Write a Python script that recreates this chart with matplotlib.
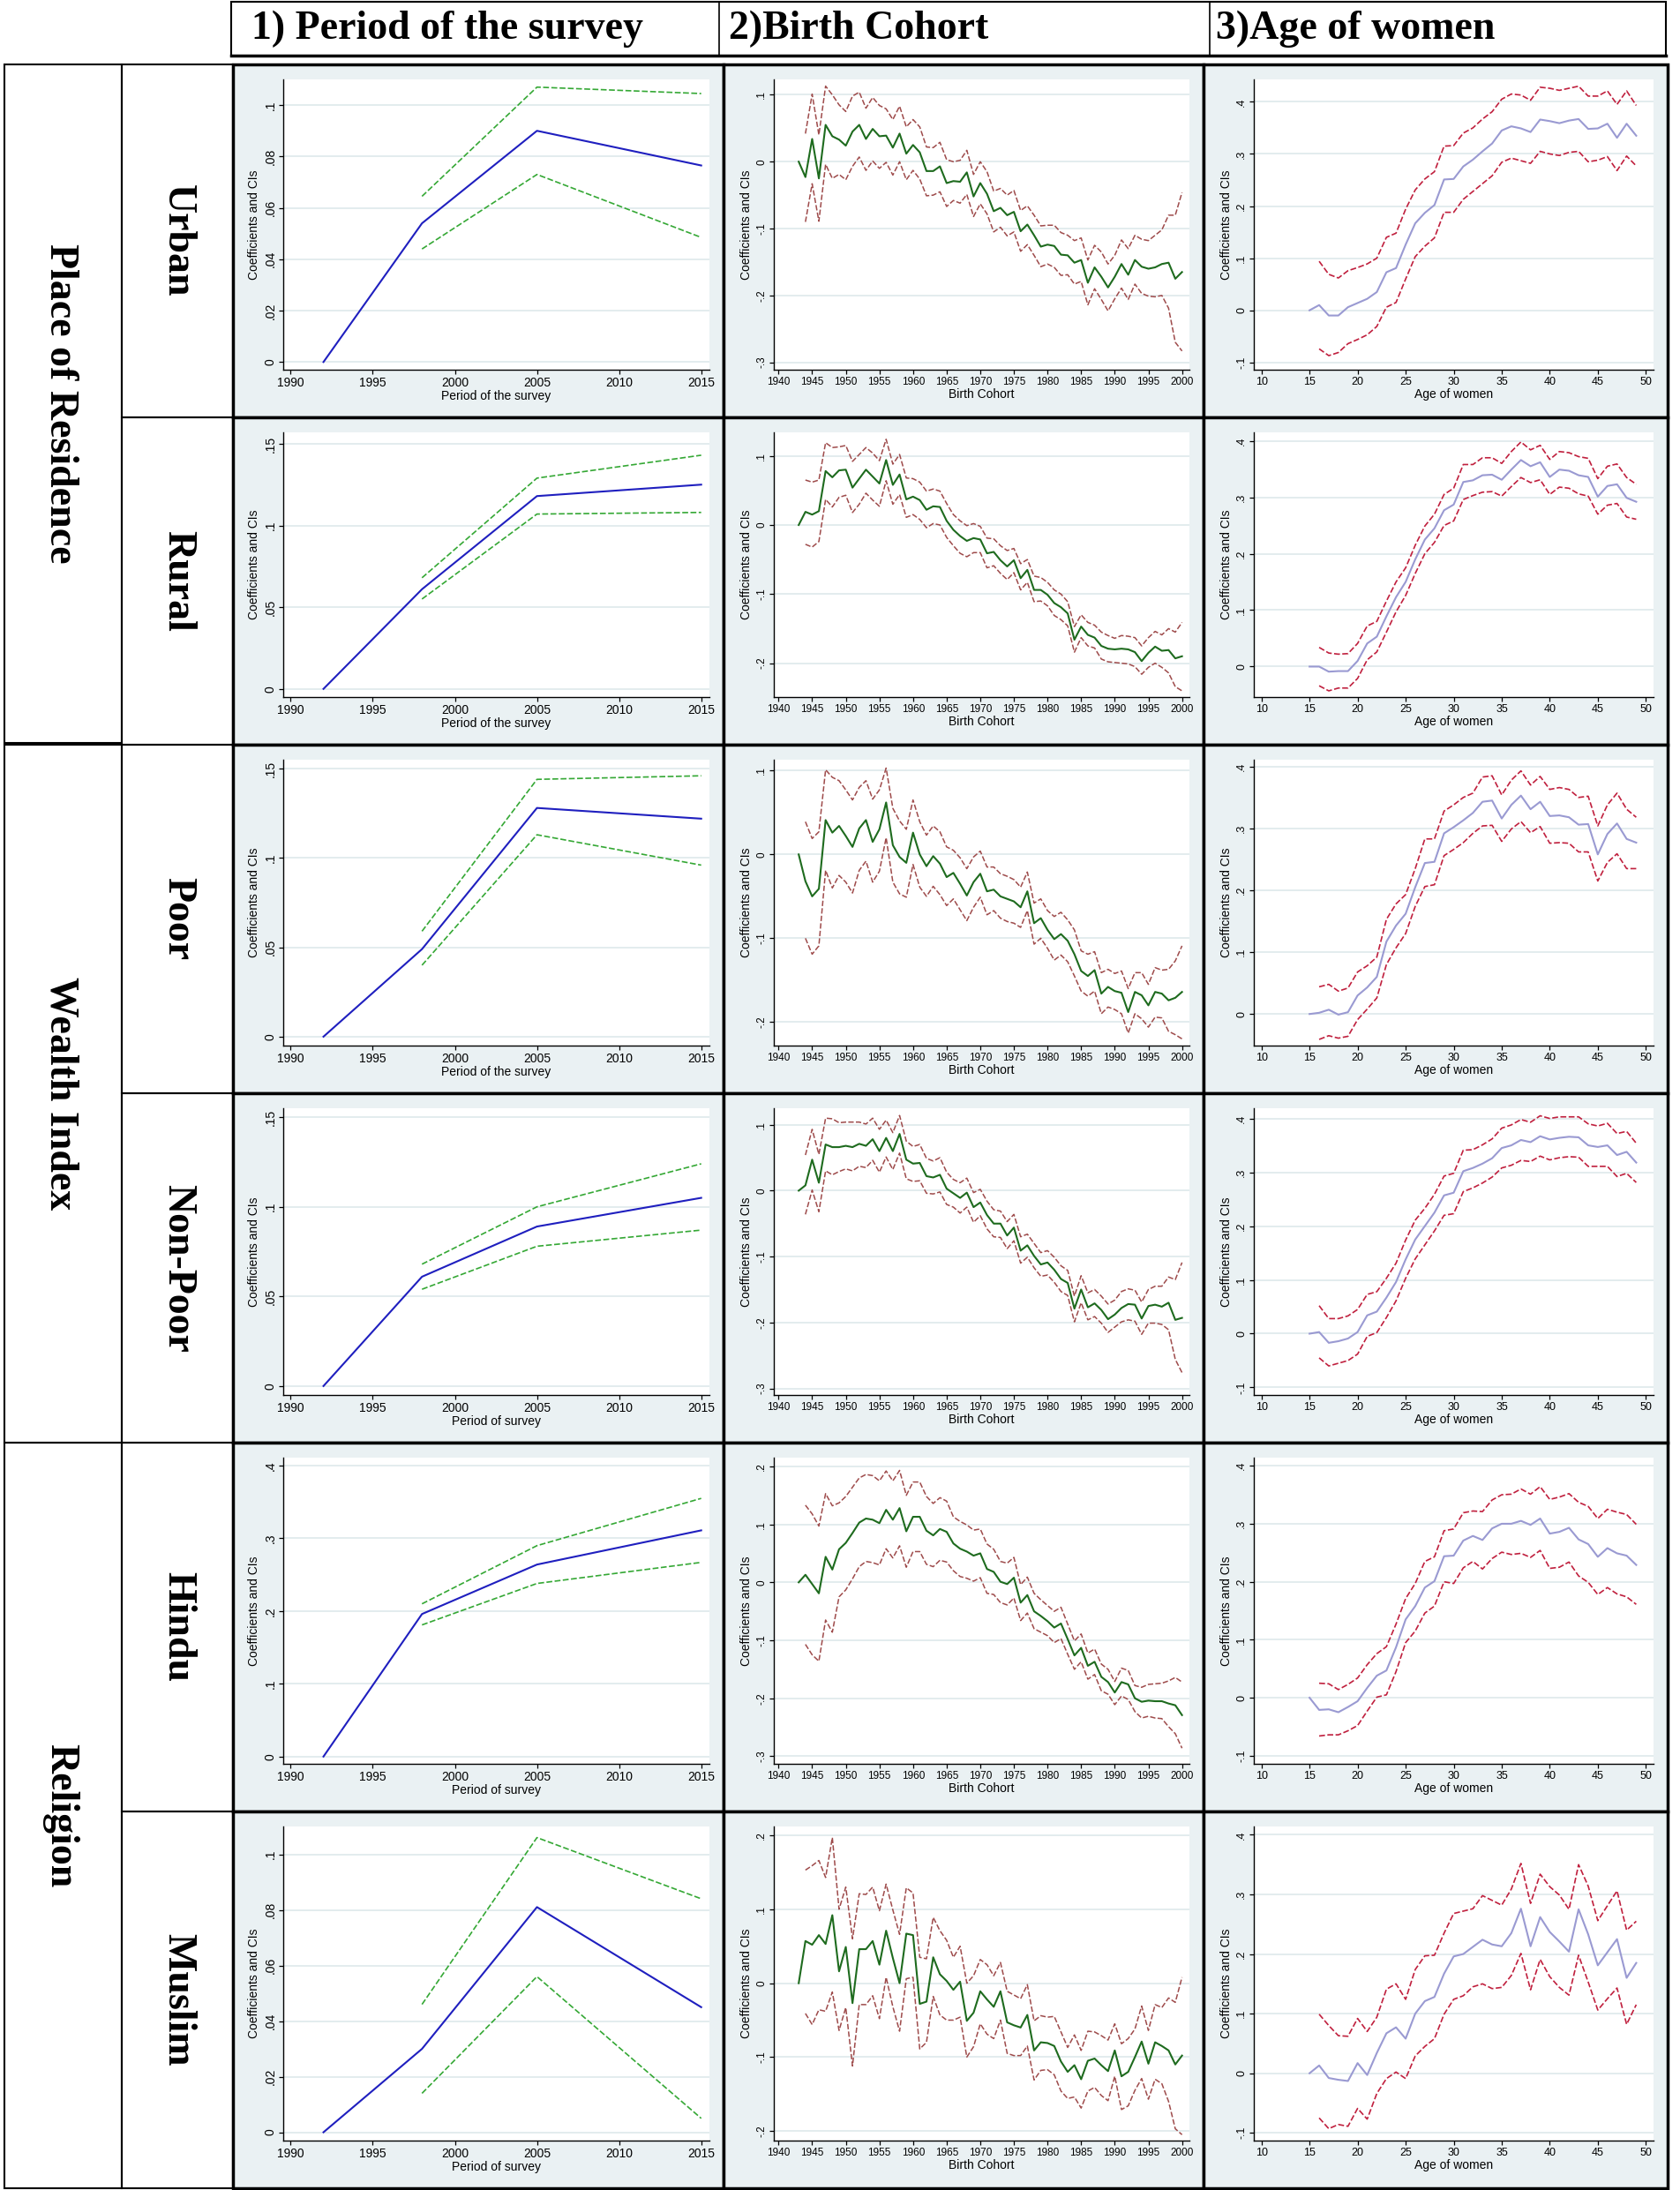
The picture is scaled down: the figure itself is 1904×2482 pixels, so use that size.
import matplotlib
matplotlib.use("Agg")
import matplotlib.pyplot as plt
from matplotlib.patches import Rectangle
from matplotlib.ticker import FuncFormatter

plt.rcParams['font.family'] = 'Liberation Sans'

# ---------------- data ----------------
row_names = ["Urban", "Rural", "Poor", "Non-Poor", "Hindu", "Muslim"]
group_names = ["Place of Residence", "Wealth Index", "Religion"]
column_titles = ["1) Period of the survey", "2)Birth Cohort", "3)Age of women"]
period_xlabels = ["Period of the survey", "Period of the survey", "Period of the survey",
                  "Period of survey", "Period of survey", "Period of survey"]

period_years = [1992, 1998, 2005, 2015]
period_ci_years = [1998, 2005, 2015]
cohort_years = list(range(1943, 2001))
cohort_ci_years = list(range(1944, 2001))
age_years = list(range(15, 50))
age_ci_years = list(range(16, 50))

# period of the survey
period_urban_coef = [0, .054, .090, .0765]
period_urban_hi = [.0645, .107, .1045]
period_urban_lo = [.044, .073, .0485]
period_rural_coef = [0, .061, .118, .125]
period_rural_hi = [.068, .129, .143]
period_rural_lo = [.055, .107, .108]
period_poor_coef = [0, .049, .128, .122]
period_poor_hi = [.059, .144, .146]
period_poor_lo = [.040, .113, .096]
period_nonpoor_coef = [0, .061, .089, .105]
period_nonpoor_hi = [.068, .100, .124]
period_nonpoor_lo = [.054, .078, .087]
period_hindu_coef = [0, .196, .264, .311]
period_hindu_hi = [.210, .290, .355]
period_hindu_lo = [.181, .238, .267]
period_muslim_coef = [0, .030, .081, .045]
period_muslim_hi = [.046, .106, .084]
period_muslim_lo = [.014, .056, .005]

# birth cohort
cohort_urban_coef = [0, -.023, .034, -.025, .055, .038, .033, .024, .045, .055,
                     .034, .049, .038, .039, .021, .042, .012, .025, .014, -.014,
                     -.014, -.007, -.032, -.029, -.030, -.016, -.052, -.032, -.048, -.074,
                     -.069, -.080, -.075, -.104, -.094, -.110, -.127, -.124, -.126, -.139,
                     -.140, -.151, -.147, -.181, -.158, -.172, -.188, -.172, -.153, -.169,
                     -.147, -.157, -.160, -.158, -.153, -.151, -.175, -.165]
cohort_urban_hi = [.042, .101, .040, .113, .100, .085, .075, .098, .104, .080,
                   .096, .084, .079, .063, .083, .052, .063, .052, .022, .021,
                   .029, .003, .000, .002, .017, -.019, .000, -.015, -.044, -.040,
                   -.050, -.043, -.073, -.066, -.080, -.096, -.095, -.095, -.106, -.110,
                   -.118, -.114, -.147, -.125, -.135, -.153, -.140, -.117, -.130, -.110,
                   -.116, -.118, -.110, -.102, -.080, -.080, -.046]
cohort_urban_lo = [-.090, -.033, -.089, -.004, -.025, -.019, -.027, -.007, .007, -.013,
                   .001, -.010, -.001, -.020, .000, -.027, -.013, -.026, -.051, -.050,
                   -.045, -.067, -.058, -.062, -.049, -.082, -.063, -.078, -.105, -.098,
                   -.111, -.105, -.134, -.124, -.140, -.157, -.153, -.158, -.170, -.169,
                   -.183, -.179, -.214, -.190, -.206, -.223, -.205, -.189, -.206, -.183,
                   -.197, -.201, -.202, -.200, -.219, -.270, -.283]

cohort_rural_coef = [0, .019, .015, .020, .078, .069, .079, .080, .054, .067,
                     .080, .070, .060, .094, .058, .073, .037, .041, .036, .022,
                     .027, .026, .006, -.007, -.016, -.023, -.019, -.021, -.041, -.039,
                     -.051, -.060, -.051, -.077, -.065, -.094, -.094, -.101, -.113, -.119,
                     -.128, -.166, -.147, -.159, -.163, -.175, -.179, -.180, -.179, -.180,
                     -.184, -.197, -.185, -.176, -.182, -.181, -.193, -.190]
cohort_rural_hi = [.065, .062, .065, .119, .112, .113, .115, .092, .102, .112,
                   .104, .093, .124, .088, .102, .068, .067, .062, .049, .052,
                   .049, .031, .015, .006, -.001, .002, -.002, -.019, -.020, -.030,
                   -.037, -.034, -.056, -.050, -.074, -.076, -.083, -.094, -.100, -.111,
                   -.147, -.130, -.141, -.145, -.155, -.160, -.164, -.160, -.161, -.163,
                   -.175, -.163, -.154, -.159, -.150, -.155, -.141]
cohort_rural_lo = [-.028, -.032, -.024, .037, .026, .040, .043, .018, .030, .046,
                   .036, .027, .064, .030, .044, .011, .015, .008, -.004, .002,
                   .000, -.018, -.030, -.041, -.046, -.040, -.040, -.062, -.059, -.070,
                   -.079, -.069, -.094, -.083, -.111, -.110, -.117, -.131, -.137, -.146,
                   -.184, -.163, -.175, -.178, -.194, -.198, -.199, -.200, -.201, -.205,
                   -.216, -.206, -.200, -.206, -.214, -.234, -.240]

cohort_poor_coef = [0, -.032, -.050, -.041, .041, .026, .034, .022, .009, .031,
                    .041, .015, .030, .062, .011, -.003, -.010, .026, .000, -.014,
                    -.002, -.011, -.027, -.022, -.035, -.049, -.033, -.023, -.044, -.042,
                    -.050, -.053, -.056, -.063, -.044, -.082, -.076, -.090, -.101, -.095,
                    -.103, -.119, -.139, -.145, -.138, -.166, -.158, -.163, -.165, -.188,
                    -.164, -.168, -.180, -.164, -.166, -.174, -.171, -.164]
cohort_poor_hi = [.039, .019, .027, .101, .092, .088, .077, .065, .080, .088,
                  .066, .077, .103, .055, .040, .030, .065, .039, .023, .034,
                  .027, .009, .005, -.004, -.017, -.003, .004, -.015, -.015, -.023,
                  -.026, -.030, -.039, -.021, -.058, -.053, -.067, -.074, -.069, -.078,
                  -.090, -.115, -.119, -.116, -.141, -.137, -.142, -.139, -.160, -.141,
                  -.141, -.155, -.135, -.138, -.137, -.127, -.109]
cohort_poor_lo = [-.100, -.119, -.109, -.019, -.040, -.025, -.033, -.046, -.019, -.008,
                  -.033, -.020, .020, -.033, -.047, -.051, -.012, -.039, -.050, -.038,
                  -.048, -.061, -.053, -.066, -.079, -.063, -.051, -.072, -.067, -.076,
                  -.080, -.082, -.087, -.067, -.107, -.100, -.112, -.126, -.120, -.128,
                  -.145, -.163, -.169, -.163, -.190, -.182, -.185, -.190, -.213, -.190,
                  -.196, -.206, -.194, -.195, -.211, -.215, -.220]

cohort_nonpoor_coef = [0, .008, .047, .012, .070, .066, .066, .068, .066, .071,
                       .068, .078, .060, .080, .060, .086, .047, .041, .042, .022,
                       .020, .024, .003, -.004, -.011, -.003, -.025, -.018, -.037, -.050,
                       -.050, -.068, -.056, -.091, -.083, -.099, -.112, -.109, -.120, -.134,
                       -.140, -.179, -.150, -.177, -.171, -.181, -.195, -.188, -.178, -.172,
                       -.173, -.194, -.175, -.173, -.176, -.170, -.196, -.193]
cohort_nonpoor_hi = [.054, .093, .055, .110, .109, .103, .104, .104, .104, .101,
                     .110, .093, .107, .088, .114, .075, .067, .070, .049, .045,
                     .050, .028, .017, .012, .019, -.003, .002, -.016, -.029, -.031,
                     -.047, -.036, -.070, -.066, -.080, -.094, -.091, -.101, -.114, -.121,
                     -.160, -.129, -.155, -.150, -.160, -.172, -.166, -.153, -.149, -.151,
                     -.169, -.150, -.145, -.145, -.131, -.135, -.109]
cohort_nonpoor_lo = [-.036, .001, -.032, .030, .024, .029, .033, .030, .037, .035,
                     .046, .028, .051, .032, .057, .018, .014, .015, -.004, -.005,
                     -.002, -.021, -.025, -.034, -.025, -.048, -.038, -.058, -.070, -.071,
                     -.088, -.076, -.110, -.101, -.117, -.130, -.128, -.139, -.153, -.159,
                     -.199, -.170, -.196, -.191, -.201, -.215, -.207, -.199, -.196, -.198,
                     -.218, -.201, -.201, -.203, -.211, -.256, -.276]

cohort_hindu_coef = [0, .013, -.003, -.019, .044, .022, .057, .068, .085, .103,
                     .110, .108, .102, .125, .108, .128, .088, .113, .113, .089,
                     .081, .092, .087, .067, .058, .053, .046, .050, .023, .018,
                     .001, -.003, .008, -.035, -.022, -.050, -.058, -.067, -.078, -.071,
                     -.098, -.126, -.113, -.144, -.137, -.163, -.172, -.190, -.172, -.176,
                     -.200, -.206, -.204, -.205, -.205, -.209, -.212, -.229]
cohort_hindu_hi = [.133, .118, .097, .153, .132, .137, .148, .164, .180, .186,
                   .184, .175, .192, .175, .193, .150, .173, .173, .148, .136,
                   .146, .140, .113, .105, .099, .090, .092, .066, .057, .036,
                   .033, .043, -.004, .009, -.019, -.030, -.040, -.050, -.043, -.072,
                   -.101, -.089, -.122, -.115, -.141, -.150, -.171, -.148, -.152, -.178,
                   -.181, -.176, -.175, -.174, -.170, -.164, -.172]
cohort_hindu_lo = [-.107, -.125, -.136, -.065, -.086, -.025, -.013, .006, .027, .036,
                   .034, .030, .058, .042, .063, .026, .053, .053, .031, .027,
                   .038, .035, .020, .010, .007, .002, .008, -.019, -.021, -.035,
                   -.039, -.027, -.066, -.053, -.080, -.086, -.092, -.104, -.097, -.124,
                   -.150, -.137, -.167, -.159, -.187, -.193, -.211, -.196, -.202, -.223,
                   -.234, -.231, -.234, -.235, -.249, -.261, -.286]

cohort_muslim_coef = [0, .057, .052, .065, .053, .092, .016, .049, -.027, .046,
                      .046, .057, .025, .071, .034, .000, .067, .065, -.028, -.025,
                      .035, .012, .003, -.009, .002, -.051, -.040, -.011, -.022, -.032,
                      -.011, -.053, -.057, -.060, -.043, -.091, -.080, -.081, -.085, -.106,
                      -.120, -.111, -.130, -.105, -.102, -.111, -.119, -.091, -.126, -.120,
                      -.100, -.079, -.109, -.080, -.085, -.091, -.110, -.098]
cohort_muslim_hi = [.153, .159, .166, .143, .197, .100, .130, .060, .121, .120,
                    .130, .098, .134, .099, .066, .129, .122, .035, .033, .089,
                    .071, .058, .035, .050, .000, .010, .032, .025, .010, .028,
                    -.011, -.016, -.021, -.002, -.051, -.044, -.046, -.045, -.066, -.087,
                    -.070, -.091, -.065, -.066, -.071, -.077, -.055, -.082, -.075, -.062,
                    -.031, -.064, -.029, -.033, -.020, -.026, .008]
cohort_muslim_lo = [-.041, -.056, -.036, -.038, -.012, -.064, -.033, -.112, -.029, -.029,
                    -.017, -.048, .008, -.032, -.065, .006, .008, -.089, -.080, -.018,
                    -.043, -.050, -.050, -.046, -.100, -.086, -.055, -.069, -.075, -.050,
                    -.095, -.098, -.098, -.085, -.131, -.118, -.117, -.124, -.146, -.156,
                    -.154, -.169, -.146, -.141, -.152, -.159, -.126, -.171, -.166, -.145,
                    -.129, -.157, -.130, -.136, -.160, -.197, -.205]

# age of women
age_urban_coef = [0, .010, -.010, -.010, .006, .014, .022, .035, .073, .081,
                  .126, .167, .187, .202, .251, .252, .276, .289, .305, .320,
                  .345, .353, .349, .342, .366, .363, .359, .364, .367, .348,
                  .349, .358, .331, .358, .335]
age_urban_hi = [.094, .069, .062, .076, .082, .089, .100, .140, .148,
                .194, .231, .252, .266, .315, .316, .340, .350, .367, .381,
                .405, .415, .413, .403, .428, .426, .422, .426, .430, .411,
                .411, .421, .395, .421, .393]
age_urban_lo = [-.074, -.087, -.081, -.064, -.056, -.047, -.031, .006, .015,
                .060, .103, .123, .139, .188, .188, .213, .228, .243, .258,
                .284, .292, .287, .282, .305, .300, .297, .303, .305, .285,
                .288, .295, .268, .296, .277]

age_rural_coef = [0, .000, -.009, -.008, -.008, .010, .041, .053, .089, .123,
                  .150, .190, .225, .245, .277, .287, .327, .330, .339, .340,
                  .331, .349, .366, .355, .362, .336, .349, .347, .339, .336,
                  .301, .320, .323, .299, .292]
age_rural_hi = [.034, .024, .022, .023, .041, .072, .080, .116, .150,
                .175, .215, .249, .270, .305, .316, .358, .358, .370, .370,
                .360, .381, .398, .384, .392, .367, .381, .379, .372, .369,
                .333, .355, .359, .335, .323]
age_rural_lo = [-.034, -.043, -.038, -.038, -.021, .012, .026, .061, .097,
                .126, .165, .200, .220, .250, .258, .296, .303, .309, .310,
                .302, .319, .335, .326, .331, .305, .318, .316, .306, .302,
                .270, .286, .289, .265, .261]

age_poor_coef = [0, .002, .007, -.001, .003, .030, .043, .060, .117, .143,
                 .162, .205, .244, .246, .292, .302, .313, .325, .343, .345,
                 .316, .338, .353, .331, .343, .320, .321, .318, .306, .307,
                 .258, .291, .308, .283, .277]
age_poor_hi = [.044, .048, .037, .042, .068, .078, .092, .153, .178,
               .193, .235, .283, .283, .328, .338, .350, .357, .383, .385,
               .354, .378, .393, .370, .384, .363, .366, .363, .350, .352,
               .304, .338, .357, .331, .318]
age_poor_lo = [-.041, -.035, -.039, -.036, -.009, .008, .026, .080, .107,
               .130, .174, .206, .209, .256, .266, .277, .292, .304, .305,
               .279, .299, .311, .293, .303, .276, .277, .276, .262, .262,
               .215, .245, .259, .235, .235]

age_nonpoor_coef = [0, .003, -.017, -.014, -.009, .003, .034, .041, .067, .096,
                    .138, .175, .200, .225, .257, .262, .302, .308, .316, .326,
                    .345, .350, .360, .356, .367, .361, .364, .366, .365, .350,
                    .347, .350, .332, .338, .318]
age_nonpoor_hi = [.052, .028, .028, .033, .045, .073, .078, .103, .131,
                  .174, .211, .233, .259, .293, .298, .341, .342, .351, .362,
                  .382, .388, .398, .393, .405, .400, .403, .403, .403, .390,
                  .386, .391, .372, .376, .354]
age_nonpoor_lo = [-.045, -.060, -.055, -.050, -.038, -.005, .002, .030, .061,
                  .103, .139, .165, .191, .220, .223, .264, .271, .280, .291,
                  .308, .313, .322, .320, .330, .323, .327, .329, .328, .311,
                  .311, .311, .292, .298, .281]

age_hindu_coef = [0, -.021, -.020, -.025, -.016, -.006, .017, .038, .047, .087,
                  .135, .158, .190, .201, .244, .245, .271, .279, .272, .292,
                  .300, .300, .305, .298, .309, .283, .286, .293, .273, .265,
                  .243, .258, .249, .245, .229]
age_hindu_hi = [.025, .024, .014, .023, .034, .057, .076, .088, .127,
                .171, .197, .235, .243, .288, .291, .319, .322, .321, .341,
                .350, .351, .360, .351, .364, .342, .346, .352, .337, .330,
                .309, .325, .320, .316, .299]
age_hindu_lo = [-.066, -.064, -.064, -.057, -.048, -.023, .001, .005, .045,
                .095, .115, .146, .158, .200, .197, .224, .235, .222, .240,
                .251, .247, .249, .242, .254, .223, .225, .234, .210, .199,
                .178, .190, .179, .174, .161]

age_muslim_coef = [0, .013, -.008, -.011, -.013, .017, -.003, .034, .067, .077,
                   .058, .100, .121, .128, .167, .196, .200, .212, .224, .216,
                   .213, .235, .276, .213, .262, .237, .221, .204, .275, .233,
                   .181, .203, .225, .160, .185]
age_muslim_hi = [.099, .080, .063, .062, .092, .070, .094, .141, .150,
                 .124, .174, .197, .198, .235, .268, .272, .276, .298, .290,
                 .282, .309, .352, .285, .334, .313, .299, .275, .350, .314,
                 .256, .281, .306, .240, .255]
age_muslim_lo = [-.075, -.093, -.086, -.089, -.059, -.077, -.034, -.009, .002,
                 -.009, .029, .045, .058, .099, .124, .130, .145, .150, .142,
                 .144, .164, .201, .140, .191, .162, .144, .131, .198, .153,
                 .106, .125, .143, .082, .115]

period_data = [
    (period_urban_coef, period_urban_lo, period_urban_hi),
    (period_rural_coef, period_rural_lo, period_rural_hi),
    (period_poor_coef, period_poor_lo, period_poor_hi),
    (period_nonpoor_coef, period_nonpoor_lo, period_nonpoor_hi),
    (period_hindu_coef, period_hindu_lo, period_hindu_hi),
    (period_muslim_coef, period_muslim_lo, period_muslim_hi),
]
cohort_data = [
    (cohort_urban_coef, cohort_urban_lo, cohort_urban_hi),
    (cohort_rural_coef, cohort_rural_lo, cohort_rural_hi),
    (cohort_poor_coef, cohort_poor_lo, cohort_poor_hi),
    (cohort_nonpoor_coef, cohort_nonpoor_lo, cohort_nonpoor_hi),
    (cohort_hindu_coef, cohort_hindu_lo, cohort_hindu_hi),
    (cohort_muslim_coef, cohort_muslim_lo, cohort_muslim_hi),
]
age_data = [
    (age_urban_coef, age_urban_lo, age_urban_hi),
    (age_rural_coef, age_rural_lo, age_rural_hi),
    (age_poor_coef, age_poor_lo, age_poor_hi),
    (age_nonpoor_coef, age_nonpoor_lo, age_nonpoor_hi),
    (age_hindu_coef, age_hindu_lo, age_hindu_hi),
    (age_muslim_coef, age_muslim_lo, age_muslim_hi),
]

# axis settings per row
period_yticks = [[0, .02, .04, .06, .08, .1], [0, .05, .1, .15], [0, .05, .1, .15],
                 [0, .05, .1, .15], [0, .1, .2, .3, .4], [0, .02, .04, .06, .08, .1]]
period_ylims = [(-.003, .11), (-.005, .157), (-.005, .155), (-.005, .155), (-.01, .411), (-.003, .11)]
cohort_yticks = [[-.3, -.2, -.1, 0, .1], [-.2, -.1, 0, .1], [-.2, -.1, 0, .1],
                 [-.3, -.2, -.1, 0, .1], [-.3, -.2, -.1, 0, .1, .2], [-.2, -.1, 0, .1, .2]]
cohort_ylims = [(-.311, .123), (-.249, .134), (-.228, .113), (-.31, .125), (-.313, .215), (-.213, .212)]
age_yticks = [[-.1, 0, .1, .2, .3, .4], [0, .1, .2, .3, .4], [0, .1, .2, .3, .4],
              [-.1, 0, .1, .2, .3, .4], [-.1, 0, .1, .2, .3, .4], [-.1, 0, .1, .2, .3, .4]]
age_ylims = [(-.114, .443), (-.054, .415), (-.051, .411), (-.114, .419), (-.114, .414), (-.113, .414)]

# ---------------- layout (pixels) ----------------
W, H = 1904, 2482
panel_bg = "#EAF1F3"
grid_col = "#E1EAED"
col_edges = [(264, 820), (820, 1364), (1364, 1890)]
row_edges = [73, 473, 844, 1239, 1635, 2053, 2480]

fig = plt.figure(figsize=(W / 100, H / 100), dpi=100)
bg = fig.add_axes([0, 0, 1, 1])
bg.set_xlim(0, W)
bg.set_ylim(H, 0)
bg.axis('off')

serif = dict(family='Liberation Serif', weight='bold')

# header
bg.add_patch(Rectangle((262, 2), 1888 - 262, 61, fill=False, lw=1.5, ec='black'))
bg.plot([262, 1888], [63, 63], color='black', lw=2.5)
for xd in (815, 1371):
    bg.plot([xd, xd], [2, 63], color='black', lw=1.2)
for xt, t in zip((285, 826, 1378), column_titles):
    bg.text(xt, 33, t, fontsize=33, ha='left', va='center', **serif)

# group labels and row labels
group_spans = [(73, 842), (844, 1635), (1635, 2480)]
for (y0, y1), name in zip(group_spans, group_names):
    bg.add_patch(Rectangle((5, y0), 133, y1 - y0, fill=False, lw=1.5, ec='black'))
    bg.text(68, (y0 + y1) / 2, name, rotation=-90, fontsize=33, ha='center', va='center', **serif)
for i, name in enumerate(row_names):
    y0, y1 = row_edges[i], row_edges[i + 1]
    bg.add_patch(Rectangle((138, y0), 126, y1 - y0, fill=False, lw=1.5, ec='black'))
    bg.text(201, (y0 + y1) / 2, name, rotation=-90, fontsize=33, ha='center', va='center', **serif)

# panel backgrounds
for i in range(6):
    for (x0, x1) in col_edges:
        y0, y1 = row_edges[i], row_edges[i + 1]
        bg.add_patch(Rectangle((x0, y0), x1 - x0, y1 - y0, fc=panel_bg, ec='black', lw=2.5))


def stata_fmt(v, pos):
    v = round(v, 4)
    if v == 0:
        return "0"
    s = f"{v:g}"
    if s.startswith("0."):
        s = s[1:]
    elif s.startswith("-0."):
        s = "-" + s[2:]
    return s


def make_axes(x0, y0, x1, y1):
    left, right, top, bottom = x0 + 57, x1 - 16, y0 + 17, y1 - 54
    return fig.add_axes([left / W, 1 - bottom / H, (right - left) / W, (bottom - top) / H])


def style_axes(ax, xticks, xlim, yticks, ylim, xlabel, tsize):
    ax.set_facecolor('white')
    ax.set_xlim(*xlim)
    ax.set_ylim(*ylim)
    ax.set_xticks(xticks)
    ax.set_yticks(yticks)
    ax.yaxis.set_major_formatter(FuncFormatter(stata_fmt))
    for s in ('top', 'right'):
        ax.spines[s].set_visible(False)
    for s in ('left', 'bottom'):
        ax.spines[s].set_linewidth(1.0)
    ax.tick_params(direction='out', length=3.5, width=0.9, pad=2, labelsize=tsize)
    for lab in ax.get_yticklabels():
        lab.set_rotation(90)
        lab.set_va('center')
    ax.grid(axis='y', color=grid_col, lw=1.3)
    ax.set_axisbelow(True)
    ax.set_xlabel(xlabel, fontsize=10, labelpad=1)
    ax.set_ylabel("Coefficients and CIs", fontsize=10, labelpad=3)


dash = (0, (4, 1.6))
for i in range(6):
    y0, y1 = row_edges[i], row_edges[i + 1]

    # period of survey
    x0, x1 = col_edges[0]
    ax = make_axes(x0, y0, x1, y1)
    coef, lo, hi = period_data[i]
    ax.plot(period_years, coef, color='#1f1fbf', lw=1.5)
    ax.plot(period_ci_years, hi, color='#35a835', lw=1.2, ls=dash)
    ax.plot(period_ci_years, lo, color='#35a835', lw=1.2, ls=dash)
    style_axes(ax, range(1990, 2016, 5), (1989.55, 2015.5), period_yticks[i], period_ylims[i],
               period_xlabels[i], 10)

    # birth cohort
    x0, x1 = col_edges[1]
    ax = make_axes(x0, y0, x1, y1)
    coef, lo, hi = cohort_data[i]
    ax.plot(cohort_years, coef, color='#1e6b1e', lw=1.5)
    ax.plot(cohort_ci_years, hi, color='#9e4b4b', lw=1.1, ls=dash)
    ax.plot(cohort_ci_years, lo, color='#9e4b4b', lw=1.1, ls=dash)
    style_axes(ax, range(1940, 2001, 5), (1939.3, 2001.1), cohort_yticks[i], cohort_ylims[i],
               "Birth Cohort", 8.5)

    # age of women
    x0, x1 = col_edges[2]
    ax = make_axes(x0, y0, x1, y1)
    coef, lo, hi = age_data[i]
    ax.plot(age_years, coef, color='#9a9ad2', lw=1.5)
    ax.plot(age_ci_years, hi, color='#c0203e', lw=1.2, ls=dash)
    ax.plot(age_ci_years, lo, color='#c0203e', lw=1.2, ls=dash)
    style_axes(ax, range(10, 51, 5), (9.2, 50.8), age_yticks[i], age_ylims[i],
               "Age of women", 9)

fig.savefig("out.png", dpi=100)
